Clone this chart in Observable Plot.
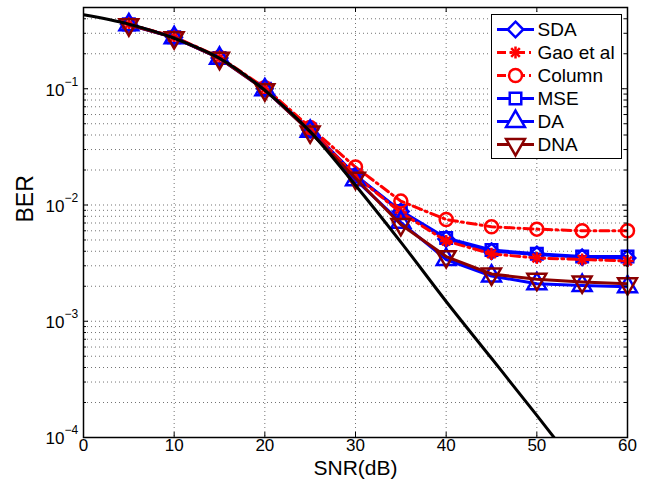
<!DOCTYPE html>
<html><head><meta charset="utf-8">
<script src="https://cdn.jsdelivr.net/npm/d3@7"></script>
<script src="https://cdn.jsdelivr.net/npm/@observablehq/plot@0.6"></script>
<style>
html,body{margin:0;padding:0;background:#fff;}
#wrap{position:relative;width:657px;height:485px;font-family:"Liberation Sans",Arial,sans-serif;}
#legend{position:absolute;left:491px;top:14px;}
</style></head><body><div id="wrap"></div>
<script>
// ---------- data ----------
const snr = [5, 10, 15, 20, 25, 30, 35, 40, 45, 50, 55, 60];
const berSDA    = [0.358, 0.277, 0.184, 0.100, 0.0445, 0.0180, 0.0088, 0.0051, 0.0040, 0.00375, 0.00355, 0.0035];
const berGao    = [0.358, 0.277, 0.184, 0.100, 0.0445, 0.0178, 0.0086, 0.0049, 0.0038, 0.0035, 0.0034, 0.0033];
const berColumn = [0.360, 0.280, 0.187, 0.102, 0.0465, 0.0212, 0.0108, 0.0075, 0.0065, 0.0062, 0.0060, 0.0060];
const berMSE    = [0.358, 0.277, 0.184, 0.100, 0.0445, 0.0180, 0.0089, 0.0052, 0.0041, 0.0038, 0.0036, 0.0036];
const berDA     = [0.355, 0.275, 0.183, 0.098, 0.0430, 0.0165, 0.0071, 0.0034, 0.00245, 0.0021, 0.00203, 0.00198];
const berDNA    = [0.355, 0.275, 0.183, 0.098, 0.0425, 0.0170, 0.0068, 0.0036, 0.00255, 0.0023, 0.00218, 0.0021];
const snrTheory = [0, 5, 10, 15, 20, 25, 30, 35, 40, 45, 50, 55];
const berTheory = [0.433, 0.36, 0.272, 0.183, 0.097, 0.0428, 0.0148, 0.0048, 0.00148, 0.00048, 0.000155, 0.000049];
const seriesNames = ["SDA", "Gao et al", "Column", "MSE", "DA", "DNA"];
const xTicks = [0, 10, 20, 30, 40, 50, 60];
const xTickLabels = ["0", "10", "20", "30", "40", "50", "60"];
const yMajor = [1e-4, 1e-3, 1e-2, 1e-1];
const yExponents = ["\u22124", "\u22123", "\u22122", "\u22121"];
const xLabel = "SNR(dB)";
const yLabel = "BER";

// ---------- styles ----------
const styles = {
  "SDA":       {color: "#0000ff", dash: null,       symbols: ["diamond2"], r: 7},
  "Gao et al": {color: "#ff0000", dash: "9,4,2,4",  symbols: ["plus", "times"], r: 4},
  "Column":    {color: "#ff0000", dash: "9,4,2,4",  symbols: ["circle"], r: 6.5},
  "MSE":       {color: "#0000ff", dash: null,       symbols: ["square"], r: 6.5},
  "DA":        {color: "#0000ff", dash: null,       symbols: ["triangle"], r: 7},
  "DNA":       {color: "#8a0000", dash: null,       symbols: ["triangle"], r: 7, rotate: 180}
};
const values = {"SDA": berSDA, "Gao et al": berGao, "Column": berColumn, "MSE": berMSE, "DA": berDA, "DNA": berDNA};
const drawOrder = ["SDA", "MSE", "Gao et al", "Column", "DA", "DNA"];

const W = 657, H = 485, mL = 83, mR = 30, mT = 7, mB = 48;
const iw = W - mL - mR, ih = H - mT - mB;
const font = "Liberation Sans, Arial, sans-serif";

const isMajor = v => Math.abs(Math.log10(v) - Math.round(Math.log10(v))) < 1e-6;
const yAll = d3.scaleLog().domain([1e-4, 0.5]).ticks();
const yMinor = yAll.filter(v => !isMajor(v));
const xGrid = xTicks.filter(v => v > 0 && v < 60);

const seriesMarks = [];
for (const name of drawOrder) {
  const s = styles[name];
  const data = snr.map((x, i) => ({snr: x, ber: values[name][i]}));
  seriesMarks.push(Plot.line(data, {x: "snr", y: "ber", stroke: s.color, strokeWidth: 3,
    strokeDasharray: s.dash || undefined, clip: true}));
  for (const sym of s.symbols) {
    seriesMarks.push(Plot.dot(data, {x: "snr", y: "ber", symbol: sym, r: s.r, stroke: s.color,
      strokeWidth: 2.5, fill: "none", rotate: s.rotate || 0}));
  }
}
const theory = snrTheory.map((x, i) => ({snr: x, ber: berTheory[i]}));

const chart = Plot.plot({
  width: W, height: H, marginLeft: mL, marginRight: mR, marginTop: mT, marginBottom: mB,
  style: {fontFamily: font, fontSize: "17px", background: "white", overflow: "visible"},
  x: {domain: [0, 60], axis: null},
  y: {type: "log", domain: [1e-4, 0.5], axis: null},
  marks: [
    Plot.ruleX(xGrid, {x: d => d, stroke: "#000", strokeOpacity: 0.55, strokeDasharray: "1,3"}),
    Plot.ruleY(yAll, {y: d => d, stroke: "#000", strokeOpacity: 0.55, strokeDasharray: "1,3"}),
    ...seriesMarks,
    Plot.line(theory, {x: "snr", y: "ber", stroke: "#000", strokeWidth: 3, curve: "monotone-x", clip: true}),
    Plot.frame({stroke: "#000", strokeWidth: 1.5}),
    Plot.tickX(xTicks, {x: d => d, insetTop: ih - 5, stroke: "#000"}),
    Plot.tickX(xTicks, {x: d => d, insetBottom: ih - 5, stroke: "#000"}),
    Plot.tickY(yMajor, {y: d => d, insetRight: iw - 5, stroke: "#000"}),
    Plot.tickY(yMajor, {y: d => d, insetLeft: iw - 5, stroke: "#000"}),
    Plot.tickY(yMinor, {y: d => d, insetRight: iw - 3, stroke: "#000"}),
    Plot.tickY(yMinor, {y: d => d, insetLeft: iw - 3, stroke: "#000"}),
    Plot.text(xTicks, {x: d => d, text: (d, i) => xTickLabels[i], frameAnchor: "bottom", dy: 13.5, fontSize: 17}),
    Plot.text(yMajor, {y: d => d, text: () => "10", frameAnchor: "left", dx: -19, dy: 1.5, textAnchor: "end", fontSize: 17}),
    Plot.text(yMajor, {y: d => d, text: (d, i) => yExponents[i], frameAnchor: "left", dx: -19, dy: -7, textAnchor: "start", fontSize: 12}),
    Plot.text([xLabel], {text: d => d, frameAnchor: "bottom", dy: 37, fontSize: 21}),
    Plot.text([yLabel], {text: d => d, frameAnchor: "left", dx: -58, rotate: -90, fontSize: 23})
  ]
});
const wrap = document.getElementById("wrap");
wrap.appendChild(chart);

// ---------- legend ----------
const lw = 130, lh = 144;
const leg = d3.select(wrap).append("svg").attr("id", "legend")
  .attr("width", lw + 1).attr("height", lh + 1)
  .style("font-family", font);
leg.append("rect").attr("x", 0.5).attr("y", 0.5).attr("width", lw).attr("height", lh)
  .attr("fill", "#fff").attr("stroke", "#000").attr("stroke-width", 1);
const symMap = {diamond2: d3.symbolDiamond2, plus: d3.symbolPlus, times: d3.symbolTimes,
  circle: d3.symbolCircle, square: d3.symbolSquare, triangle: d3.symbolTriangle};
seriesNames.forEach((name, i) => {
  const s = styles[name];
  const y = 15.5 + i * 23;
  const g = leg.append("g");
  g.append("line").attr("x1", 6).attr("x2", 43).attr("y1", y).attr("y2", y)
    .attr("stroke", s.color).attr("stroke-width", 3)
    .attr("stroke-dasharray", s.dash || null);
  for (const sym of s.symbols) {
    g.append("path").attr("d", d3.symbol(symMap[sym], Math.PI * s.r * s.r)())
      .attr("transform", `translate(24.5,${y}) rotate(${s.rotate || 0})`)
      .attr("fill", "#fff").attr("stroke", s.color).attr("stroke-width", 2.5);
  }
  g.append("text").attr("x", 46.5).attr("y", y).attr("dy", "0.36em")
    .attr("font-size", 19).attr("fill", "#000").text(name);
});
</script>
</body></html>
